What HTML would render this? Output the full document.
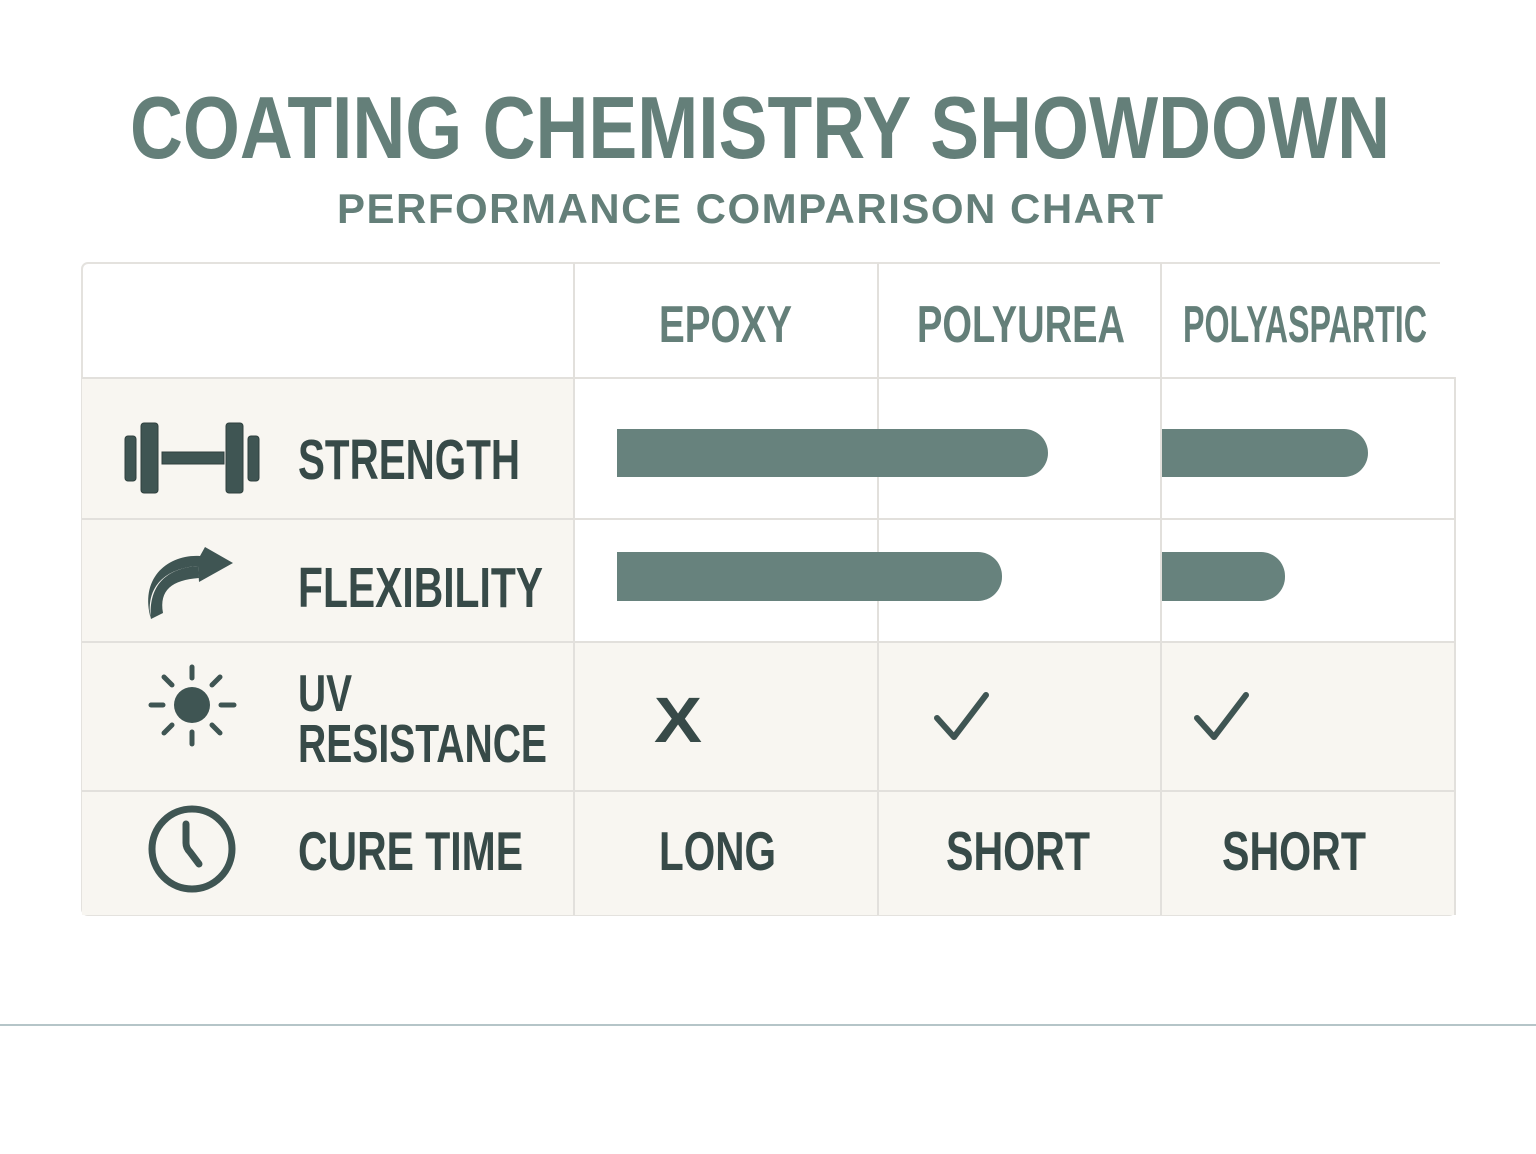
<!DOCTYPE html>
<html><head><meta charset="utf-8"><style>
html,body{margin:0;padding:0;background:#fff;}
svg{display:block;}
text{font-family:"Liberation Sans Narrow","Liberation Sans",sans-serif;font-weight:bold;}
</style></head><body>
<svg width="1536" height="1154" viewBox="0 0 1536 1154" xmlns="http://www.w3.org/2000/svg">
<rect width="1536" height="1154" fill="#fff"/>
<text x="130" y="158" font-size="88" fill="#647f79" textLength="1260" lengthAdjust="spacingAndGlyphs">COATING CHEMISTRY SHOWDOWN</text>
<text x="337" y="223" font-size="42" fill="#647f79" textLength="826" lengthAdjust="spacing" style="font-family:'Liberation Sans',sans-serif">PERFORMANCE COMPARISON CHART</text>

<rect x="82" y="263" width="1373" height="652" rx="6" fill="#fff" stroke="#e4e2de" stroke-width="2"/>
<rect x="82" y="378" width="492" height="264" fill="#f8f6f1"/>
<rect x="82" y="642" width="1373" height="273" fill="#f8f6f1"/>
<rect x="1440" y="255" width="20" height="122" fill="#fff"/>
<line x1="1440" y1="378" x2="1455" y2="378" stroke="#e4e2de" stroke-width="2"/>
<g stroke="#e2e0dc" stroke-width="2">
<line x1="82" y1="378" x2="1455" y2="378"/>
<line x1="82" y1="519" x2="1455" y2="519"/>
<line x1="82" y1="642" x2="1455" y2="642"/>
<line x1="82" y1="791" x2="1455" y2="791"/>
<line x1="574" y1="263" x2="574" y2="915"/>
<line x1="878" y1="263" x2="878" y2="915"/>
<line x1="1161" y1="263" x2="1161" y2="915"/>
<line x1="1455" y1="378" x2="1455" y2="915"/>
</g>

<g fill="#647f79">
<text x="659" y="342" font-size="52" textLength="133" lengthAdjust="spacingAndGlyphs">EPOXY</text>
<text x="917" y="342" font-size="52" textLength="208" lengthAdjust="spacingAndGlyphs">POLYUREA</text>
<text x="1183" y="342" font-size="52" textLength="244" lengthAdjust="spacingAndGlyphs">POLYASPARTIC</text>
</g>

<g fill="#67827d">
<path d="M617 429 H1024 a24 24 0 0 1 24 24 a24 24 0 0 1 -24 24 H617 Z"/>
<path d="M1162 429 H1344 a24 24 0 0 1 24 24 a24 24 0 0 1 -24 24 H1162 Z"/>
<path d="M617 552 H978 a24 24 0 0 1 24 24 v1 a24 24 0 0 1 -24 24 H617 Z"/>
<path d="M1162 552 H1261 a24 24 0 0 1 24 24 v1 a24 24 0 0 1 -24 24 H1162 Z"/>
</g>

<g fill="#374a48">
<text x="298" y="479" font-size="57" textLength="222" lengthAdjust="spacingAndGlyphs">STRENGTH</text>
<text x="298" y="607" font-size="57" textLength="245" lengthAdjust="spacingAndGlyphs">FLEXIBILITY</text>
<text x="298" y="711" font-size="52" textLength="54" lengthAdjust="spacingAndGlyphs">UV</text>
<text x="298" y="762" font-size="54" textLength="249" lengthAdjust="spacingAndGlyphs">RESISTANCE</text>
<text x="298" y="870" font-size="55" textLength="225" lengthAdjust="spacingAndGlyphs">CURE TIME</text>
<text x="659" y="870" font-size="55" textLength="117" lengthAdjust="spacingAndGlyphs">LONG</text>
<text x="946" y="870" font-size="55" textLength="144" lengthAdjust="spacingAndGlyphs">SHORT</text>
<text x="1222" y="870" font-size="55" textLength="144" lengthAdjust="spacingAndGlyphs">SHORT</text>
<text x="654" y="742" font-size="64" textLength="48" lengthAdjust="spacingAndGlyphs">X</text>
</g>
<g stroke="#3f5553" stroke-width="6" fill="none" stroke-linecap="round" stroke-linejoin="round">
<path d="M937 718 L954 737 L986 695"/>
<path d="M1197 718 L1214 737 L1246 695"/>
</g>

<g fill="#3f5553" stroke="#2f403e" stroke-width="1">
<rect x="125" y="436" width="11" height="45" rx="3"/>
<rect x="141" y="423" width="17" height="70" rx="3"/>
<rect x="162" y="452" width="62" height="12"/>
<rect x="226" y="423" width="17" height="70" rx="3"/>
<rect x="248" y="436" width="11" height="45" rx="3"/>
</g>
<path d="M150 612 C148 584 168 568 198 566 L199 582 L233 563 L205 547 L200 556 C168 554 139 578 151 619 Z" fill="#3f5553"/>
<path d="M151 619 L163 613 C159 590 172 580 199 578 L198 566 C168 568 148 584 151 619 Z" fill="#3f5553"/>
<circle cx="192" cy="705" r="18" fill="#3f5553"/>
<g stroke="#3f5553" stroke-width="5" stroke-linecap="round">
<line x1="192" y1="667" x2="192" y2="678"/>
<line x1="192" y1="732" x2="192" y2="744"/>
<line x1="151" y1="705" x2="163" y2="705"/>
<line x1="221" y1="705" x2="234" y2="705"/>
<line x1="164" y1="677" x2="172" y2="685"/>
<line x1="212" y1="725" x2="220" y2="733"/>
<line x1="220" y1="677" x2="212" y2="685"/>
<line x1="164" y1="733" x2="172" y2="725"/>
</g>
<circle cx="192" cy="849" r="40" fill="none" stroke="#3f5553" stroke-width="7"/>
<path d="M186 824 L186 843 Q186 848 190 852 L199 864" fill="none" stroke="#3f5553" stroke-width="7" stroke-linecap="round" stroke-linejoin="round"/>

<line x1="0" y1="1025" x2="1536" y2="1025" stroke="#b5c5c8" stroke-width="2"/>
</svg>
</body></html>
